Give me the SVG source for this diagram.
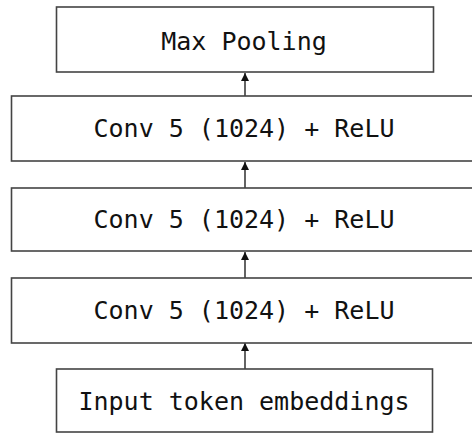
<svg xmlns="http://www.w3.org/2000/svg" width="472" height="433" viewBox="0 0 472 433">
<style>
.box{fill:#fff;stroke:#444;stroke-width:1.6}
.lbl{font-family:"DejaVu Sans Mono","Liberation Mono",monospace;font-size:25px;fill:#111;text-anchor:middle}
.edge{stroke:#222;stroke-width:1.4;fill:none}
</style>
<defs>
<marker id="ah" viewBox="0 0 8 10" refX="8" refY="5" markerWidth="8" markerHeight="10" markerUnits="userSpaceOnUse" orient="auto">
<path d="M0,1 L8,5 L0,9 z" fill="#111"/>
</marker>
</defs>
<rect width="472" height="433" fill="#fff"/>
<g id="connectors">
<line class="edge" x1="245" y1="96" x2="245" y2="73" marker-end="url(#ah)"/>
<line class="edge" x1="245" y1="188" x2="245" y2="162" marker-end="url(#ah)"/>
<line class="edge" x1="245" y1="278" x2="245" y2="252" marker-end="url(#ah)"/>
<line class="edge" x1="245" y1="369" x2="245" y2="343" marker-end="url(#ah)"/>
</g>
<g id="maxpool">
<rect class="box" x="56.5" y="7" width="377" height="65"/>
<text class="lbl" x="244" y="50">Max Pooling</text>
</g>
<g id="conv1">
<rect class="box" x="11.5" y="96" width="470" height="65"/>
<text class="lbl" x="244" y="137">Conv 5 (1024) + ReLU</text>
</g>
<g id="conv2">
<rect class="box" x="11.5" y="188" width="470" height="63"/>
<text class="lbl" x="244" y="228">Conv 5 (1024) + ReLU</text>
</g>
<g id="conv3">
<rect class="box" x="11.5" y="278" width="470" height="65"/>
<text class="lbl" x="244" y="319">Conv 5 (1024) + ReLU</text>
</g>
<g id="input">
<rect class="box" x="56.5" y="369" width="376" height="63"/>
<text class="lbl" x="244" y="410">Input token embeddings</text>
</g>
</svg>
